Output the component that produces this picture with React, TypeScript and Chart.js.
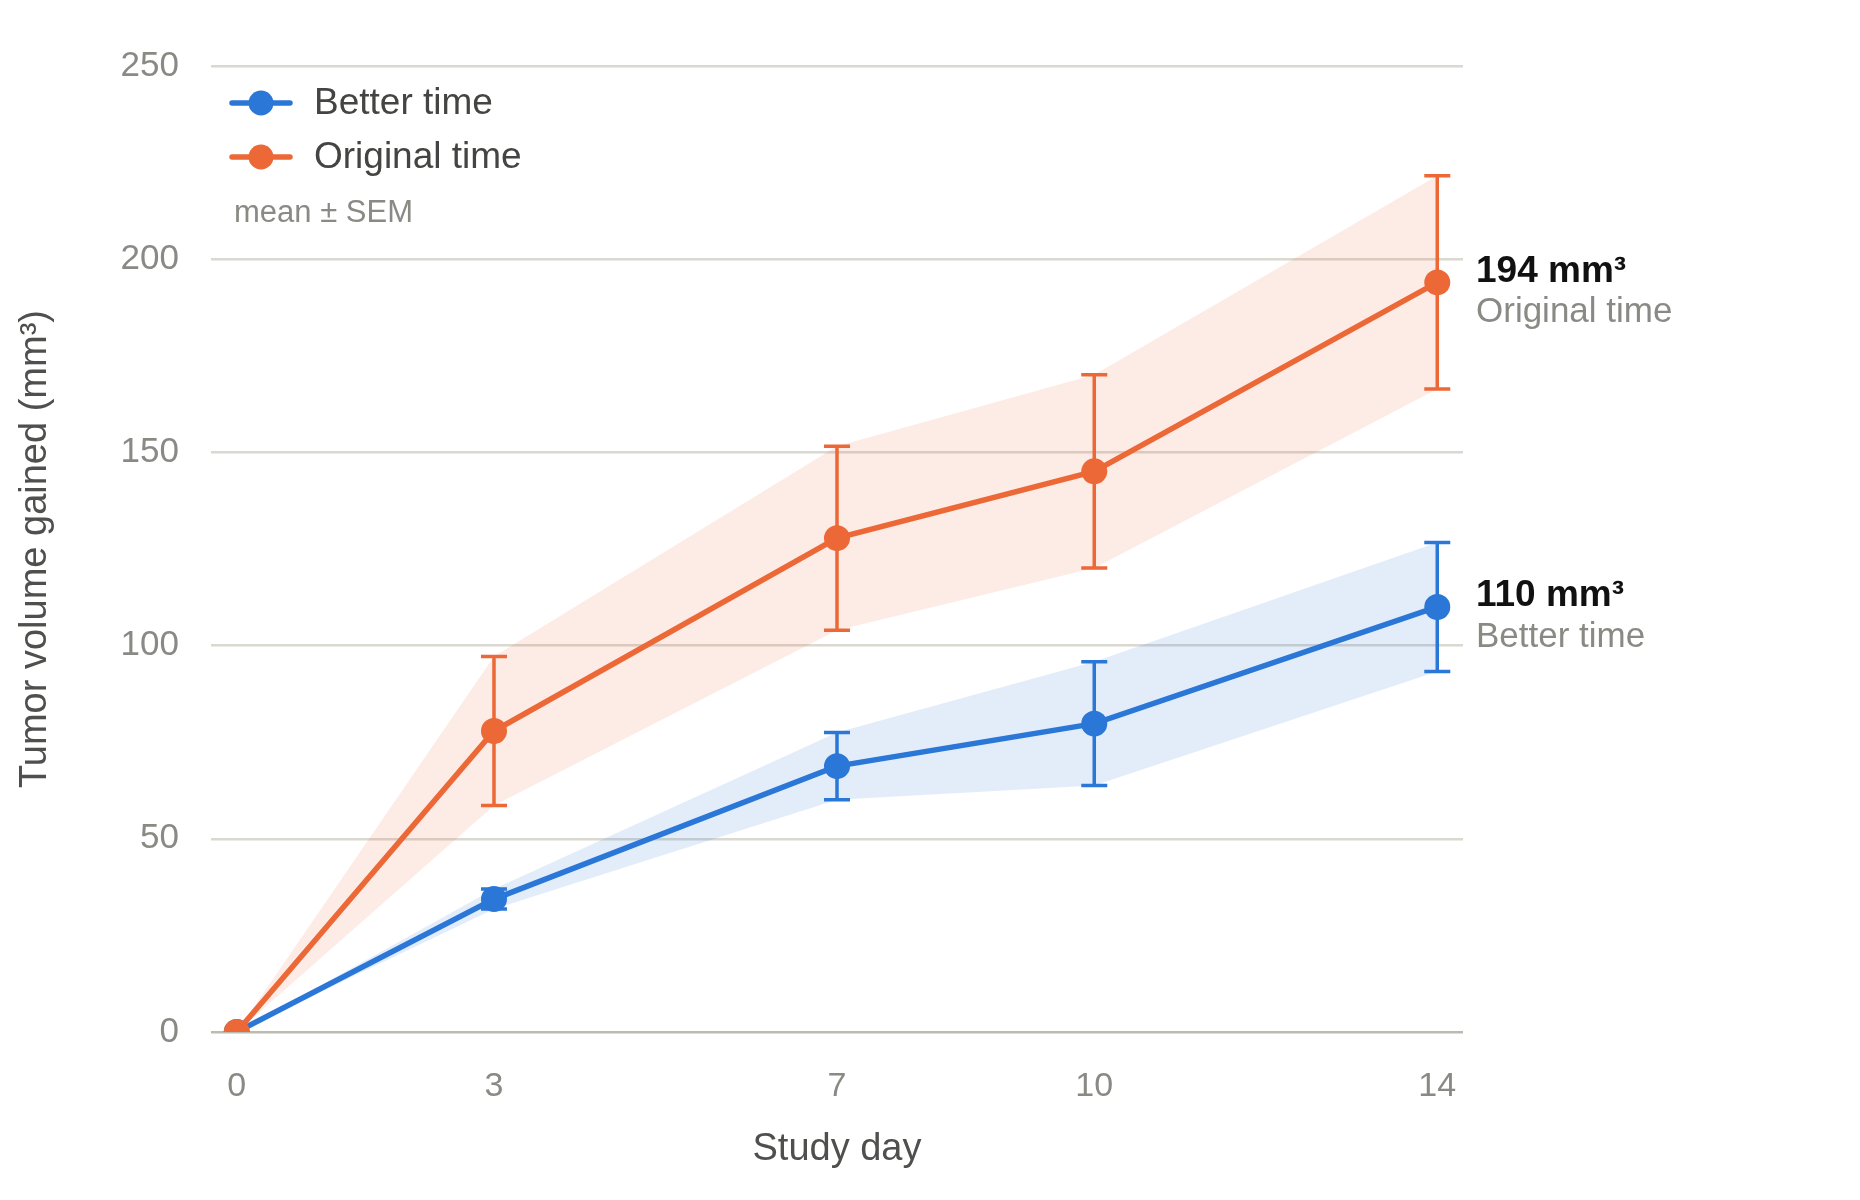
import React, { useEffect, useRef } from "react";
import { Chart, registerables } from "chart.js";

Chart.register(...registerables);

const DAYS = [0, 3, 7, 10, 14];
const BETTER_MEAN = [0, 34.4, 68.8, 79.8, 110];
const BETTER_SEM = [0, 2.6, 8.7, 16, 16.7];
const ORIGINAL_MEAN = [0, 77.9, 127.8, 145.1, 194];
const ORIGINAL_SEM = [0, 19.3, 23.8, 25, 27.6];
const SERIES_NAMES = ["Better time", "Original time"];
const Y_TICKS = [0, 50, 100, 150, 200, 250];
const X_TITLE = "Study day";
const Y_TITLE = "Tumor volume gained (mm³)";
const NOTE = "mean ± SEM";
const UNIT = "mm³";

const BLUE = "#2a77d7";
const ORANGE = "#ec6836";
const BLUE_BAND = "rgba(42,119,215,0.13)";
const ORANGE_BAND = "rgba(236,104,54,0.13)";
const FONT = "'Liberation Sans', Arial, Helvetica, sans-serif";

const pts = (means: number[], offs: number[], sign: number) =>
  DAYS.map((d, i) => ({ x: d, y: means[i] + sign * offs[i] }));

const errorBarPlugin = {
  id: "errorBars",
  beforeDatasetDraw(chart: any, args: any) {
    const ds = chart.data.datasets[args.index];
    if (!ds.sem) return;
    const { ctx } = chart;
    const xs = chart.scales.x;
    const ys = chart.scales.y;
    ctx.save();
    ctx.strokeStyle = ds.borderColor;
    ctx.lineWidth = 3.5;
    ds.data.forEach((p: any, i: number) => {
      const s = ds.sem[i];
      if (!s) return;
      const x = xs.getPixelForValue(p.x);
      const yt = ys.getPixelForValue(p.y + s);
      const yb = ys.getPixelForValue(p.y - s);
      ctx.beginPath();
      ctx.moveTo(x, yt);
      ctx.lineTo(x, yb);
      ctx.moveTo(x - 13, yt);
      ctx.lineTo(x + 13, yt);
      ctx.moveTo(x - 13, yb);
      ctx.lineTo(x + 13, yb);
      ctx.stroke();
    });
    ctx.restore();
  },
};

const annotationPlugin = {
  id: "annotations",
  afterDraw(chart: any) {
    const { ctx, chartArea } = chart;
    const ys = chart.scales.y;
    ctx.save();
    // legend
    const colors = [BLUE, ORANGE];
    SERIES_NAMES.forEach((name, i) => {
      const y = chartArea.top + 37 + i * 54;
      const x0 = chartArea.left + 21;
      ctx.strokeStyle = colors[i];
      ctx.lineWidth = 5.5;
      ctx.lineCap = "round";
      ctx.beginPath();
      ctx.moveTo(x0, y);
      ctx.lineTo(x0 + 58, y);
      ctx.stroke();
      ctx.fillStyle = colors[i];
      ctx.beginPath();
      ctx.arc(x0 + 29, y, 12.5, 0, Math.PI * 2);
      ctx.fill();
      ctx.fillStyle = "#444442";
      ctx.font = `37px ${FONT}`;
      ctx.textBaseline = "middle";
      ctx.textAlign = "left";
      ctx.fillText(name, x0 + 82, y + 1);
    });
    ctx.fillStyle = "#8a8a85";
    ctx.font = `31px ${FONT}`;
    ctx.fillText(NOTE, chartArea.left + 23, chartArea.top + 147);

    // end labels
    const ends = [
      { mean: ORIGINAL_MEAN, name: SERIES_NAMES[1] },
      { mean: BETTER_MEAN, name: SERIES_NAMES[0] },
    ];
    ends.forEach((e) => {
      const last = e.mean[e.mean.length - 1];
      const y = ys.getPixelForValue(last);
      const x = chartArea.right + 13;
      ctx.fillStyle = "#111111";
      ctx.font = `bold 37px ${FONT}`;
      ctx.fillText(`${Math.round(last)} ${UNIT}`, x, y - 11);
      ctx.fillStyle = "#8a8a85";
      ctx.font = `35px ${FONT}`;
      ctx.fillText(e.name, x, y + 30);
    });
    ctx.restore();
  },
};

export default function App() {
  const ref = useRef<HTMLCanvasElement>(null);
  useEffect(() => {
    if (!ref.current) return;
    const chart = new Chart(ref.current, {
      type: "line",
      data: {
        datasets: [
          {
            label: SERIES_NAMES[1],
            data: pts(ORIGINAL_MEAN, ORIGINAL_SEM, 0),
            sem: ORIGINAL_SEM,
            borderColor: ORANGE,
            backgroundColor: ORANGE,
            borderWidth: 5.5,
            pointRadius: 13,
            pointBorderWidth: 0,
            pointBackgroundColor: ORANGE,
            fill: false,
          } as any,
          {
            label: SERIES_NAMES[0],
            data: pts(BETTER_MEAN, BETTER_SEM, 0),
            sem: BETTER_SEM,
            borderColor: BLUE,
            backgroundColor: BLUE,
            borderWidth: 5.5,
            pointRadius: 13,
            pointBorderWidth: 0,
            pointBackgroundColor: BLUE,
            fill: false,
          } as any,
          {
            label: "orig-upper",
            data: pts(ORIGINAL_MEAN, ORIGINAL_SEM, 1),
            borderWidth: 0,
            borderColor: "transparent",
            backgroundColor: ORANGE_BAND,
            pointRadius: 0,
            fill: "+1",
          },
          {
            label: "orig-lower",
            data: pts(ORIGINAL_MEAN, ORIGINAL_SEM, -1),
            borderWidth: 0,
            borderColor: "transparent",
            pointRadius: 0,
            fill: false,
          },
          {
            label: "better-upper",
            data: pts(BETTER_MEAN, BETTER_SEM, 1),
            borderWidth: 0,
            borderColor: "transparent",
            backgroundColor: BLUE_BAND,
            pointRadius: 0,
            fill: "+1",
          },
          {
            label: "better-lower",
            data: pts(BETTER_MEAN, BETTER_SEM, -1),
            borderWidth: 0,
            borderColor: "transparent",
            pointRadius: 0,
            fill: false,
          },
        ],
      },
      options: {
        animation: false,
        responsive: false,
        devicePixelRatio: 1,
        events: [],
        layout: { padding: { left: 0, top: 66, right: 397, bottom: 0 } },
        plugins: {
          legend: { display: false },
          tooltip: { enabled: false },
        },
        scales: {
          x: {
            type: "linear",
            min: -0.3,
            max: 14.3,
            grid: { display: false },
            border: { display: false },
            afterBuildTicks: (s: any) => {
              s.ticks = DAYS.map((v) => ({ value: v }));
            },
            afterFit: (s: any) => {
              s.height = 168;
            },
            ticks: {
              color: "#8a8a85",
              font: { family: FONT, size: 34 },
              padding: 26,
              maxRotation: 0,
              autoSkip: false,
            },
            title: {
              display: true,
              text: X_TITLE,
              color: "#4f4f4d",
              font: { family: FONT, size: 38 },
              padding: { top: 0, bottom: 28 },
            },
          },
          y: {
            min: 0,
            max: 250,
            afterBuildTicks: (s: any) => {
              s.ticks = Y_TICKS.map((v) => ({ value: v }));
            },
            afterFit: (s: any) => {
              s.width = 211;
            },
            border: { display: false },
            grid: {
              drawTicks: false,
              lineWidth: 2.5,
              color: (c: any) => (c.tick && c.tick.value === 0 ? "#bbbbb2" : "#d9d8d1"),
            },
            ticks: {
              color: "#8a8a85",
              font: { family: FONT, size: 35 },
              padding: 32,
            },
            title: {
              display: true,
              text: Y_TITLE,
              color: "#4f4f4d",
              font: { family: FONT, size: 38 },
              padding: { top: 13, bottom: 0 },
            },
          },
        },
      } as any,
      plugins: [errorBarPlugin, annotationPlugin],
    });
    return () => chart.destroy();
  }, []);
  return (
    <div style={{ position: "absolute", left: 0, top: 0, width: 1860, height: 1200, background: "#fff" }}>
      <canvas ref={ref} width={1860} height={1200} style={{ width: 1860, height: 1200, display: "block" }} />
    </div>
  );
}
